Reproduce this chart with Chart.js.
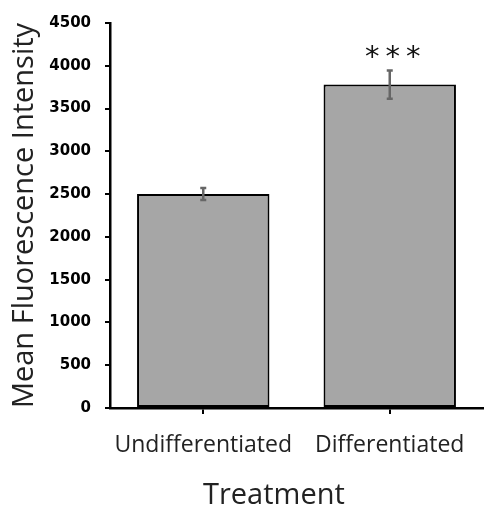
<!DOCTYPE html>
<html>
<head>
<meta charset="utf-8">
<script src="https://cdn.jsdelivr.net/npm/chart.js@4"></script>
<style>
  html, body { margin: 0; padding: 0; background: #fff; }
  #wrap { width: 484px; height: 510px; }
</style>
</head>
<body>
<div id="wrap"><canvas id="chart"></canvas></div>
<script>
// Data
const categories = ['Undifferentiated', 'Differentiated'];
const meanValues = [2500, 3780];
const errorValues = [70, 165];
const significance = ['', '***'];
const yTicks = [0, 500, 1000, 1500, 2000, 2500, 3000, 3500, 4000, 4500];

// Draw error bars and significance stars through the scales
const errorBarPlugin = {
    id: 'errorBars',
    afterDatasetsDraw(chart) {
        const ctx = chart.ctx;
        const x = chart.scales.x;
        const y = chart.scales.y;
        ctx.save();
        meanValues.forEach((v, i) => {
            const cx = x.getPixelForValue(i);
            const top = y.getPixelForValue(v + errorValues[i]);
            const bot = y.getPixelForValue(v - errorValues[i]);
            ctx.strokeStyle = '#666';
            ctx.lineWidth = 2.5;
            ctx.beginPath();
            ctx.moveTo(cx, top);
            ctx.lineTo(cx, bot);
            ctx.moveTo(cx - 3, top);
            ctx.lineTo(cx + 3, top);
            ctx.moveTo(cx - 3, bot);
            ctx.lineTo(cx + 3, bot);
            ctx.stroke();
            if (significance[i]) {
                ctx.fillStyle = '#111';
                ctx.font = '29px "DejaVu Sans"';
                ctx.letterSpacing = '6px';
                ctx.textAlign = 'center';
                ctx.textBaseline = 'middle';
                ctx.fillText(significance[i], cx + 6, top - 12);
            }
        });
        ctx.restore();
    }
};

new Chart(document.getElementById('chart'), {
    type: 'bar',
    data: {
        labels: categories,
        datasets: [{
            data: meanValues,
            backgroundColor: '#a6a6a6',
            borderColor: '#000',
            borderWidth: 2,
            borderSkipped: false,
            categoryPercentage: 0.71,
            barPercentage: 1.0
        }]
    },
    options: {
        responsive: true,
        maintainAspectRatio: false,
        animation: false,
        layout: { padding: { top: 20, right: 1, left: 0, bottom: 0 } },
        plugins: {
            legend: { display: false },
            tooltip: { enabled: false }
        },
        scales: {
            x: {
                offset: true,
                afterFit: (scale) => { scale.height = 102; },
                grid: { offset: false, drawOnChartArea: false, drawTicks: true, tickLength: 6, color: '#000', lineWidth: 2 },
                border: { color: '#000', width: 2.5 },
                ticks: { color: '#222', font: { family: 'Open Sans', size: 23 }, padding: 18 },
                title: {
                    display: true,
                    text: 'Treatment      ',
                    color: '#222',
                    font: { family: 'Open Sans', size: 29, lineHeight: 1.0 },
                    padding: { top: 10, bottom: 0 }
                }
            },
            y: {
                min: 0,
                max: 4500,
                afterBuildTicks: (scale) => {
                    scale.ticks = yTicks.map(v => ({ value: v }));
                },
                afterFit: (scale) => { scale.width = 110; },
                grid: { drawOnChartArea: false, drawTicks: true, tickLength: 5, color: '#000', lineWidth: 2 },
                border: { color: '#000', width: 2.5 },
                ticks: {
                    color: '#000',
                    font: { family: 'DejaVu Sans', size: 15, weight: 'bold' },
                    padding: 14,
                    callback: (v) => String(v)
                },
                title: {
                    display: true,
                    text: 'Mean Fluorescence Intensity',
                    color: '#222',
                    font: { family: 'Open Sans', size: 29, lineHeight: 1.0 },
                    padding: { top: 10, bottom: 0 }
                }
            }
        }
    },
    plugins: [errorBarPlugin]
});
</script>
</body>
</html>
